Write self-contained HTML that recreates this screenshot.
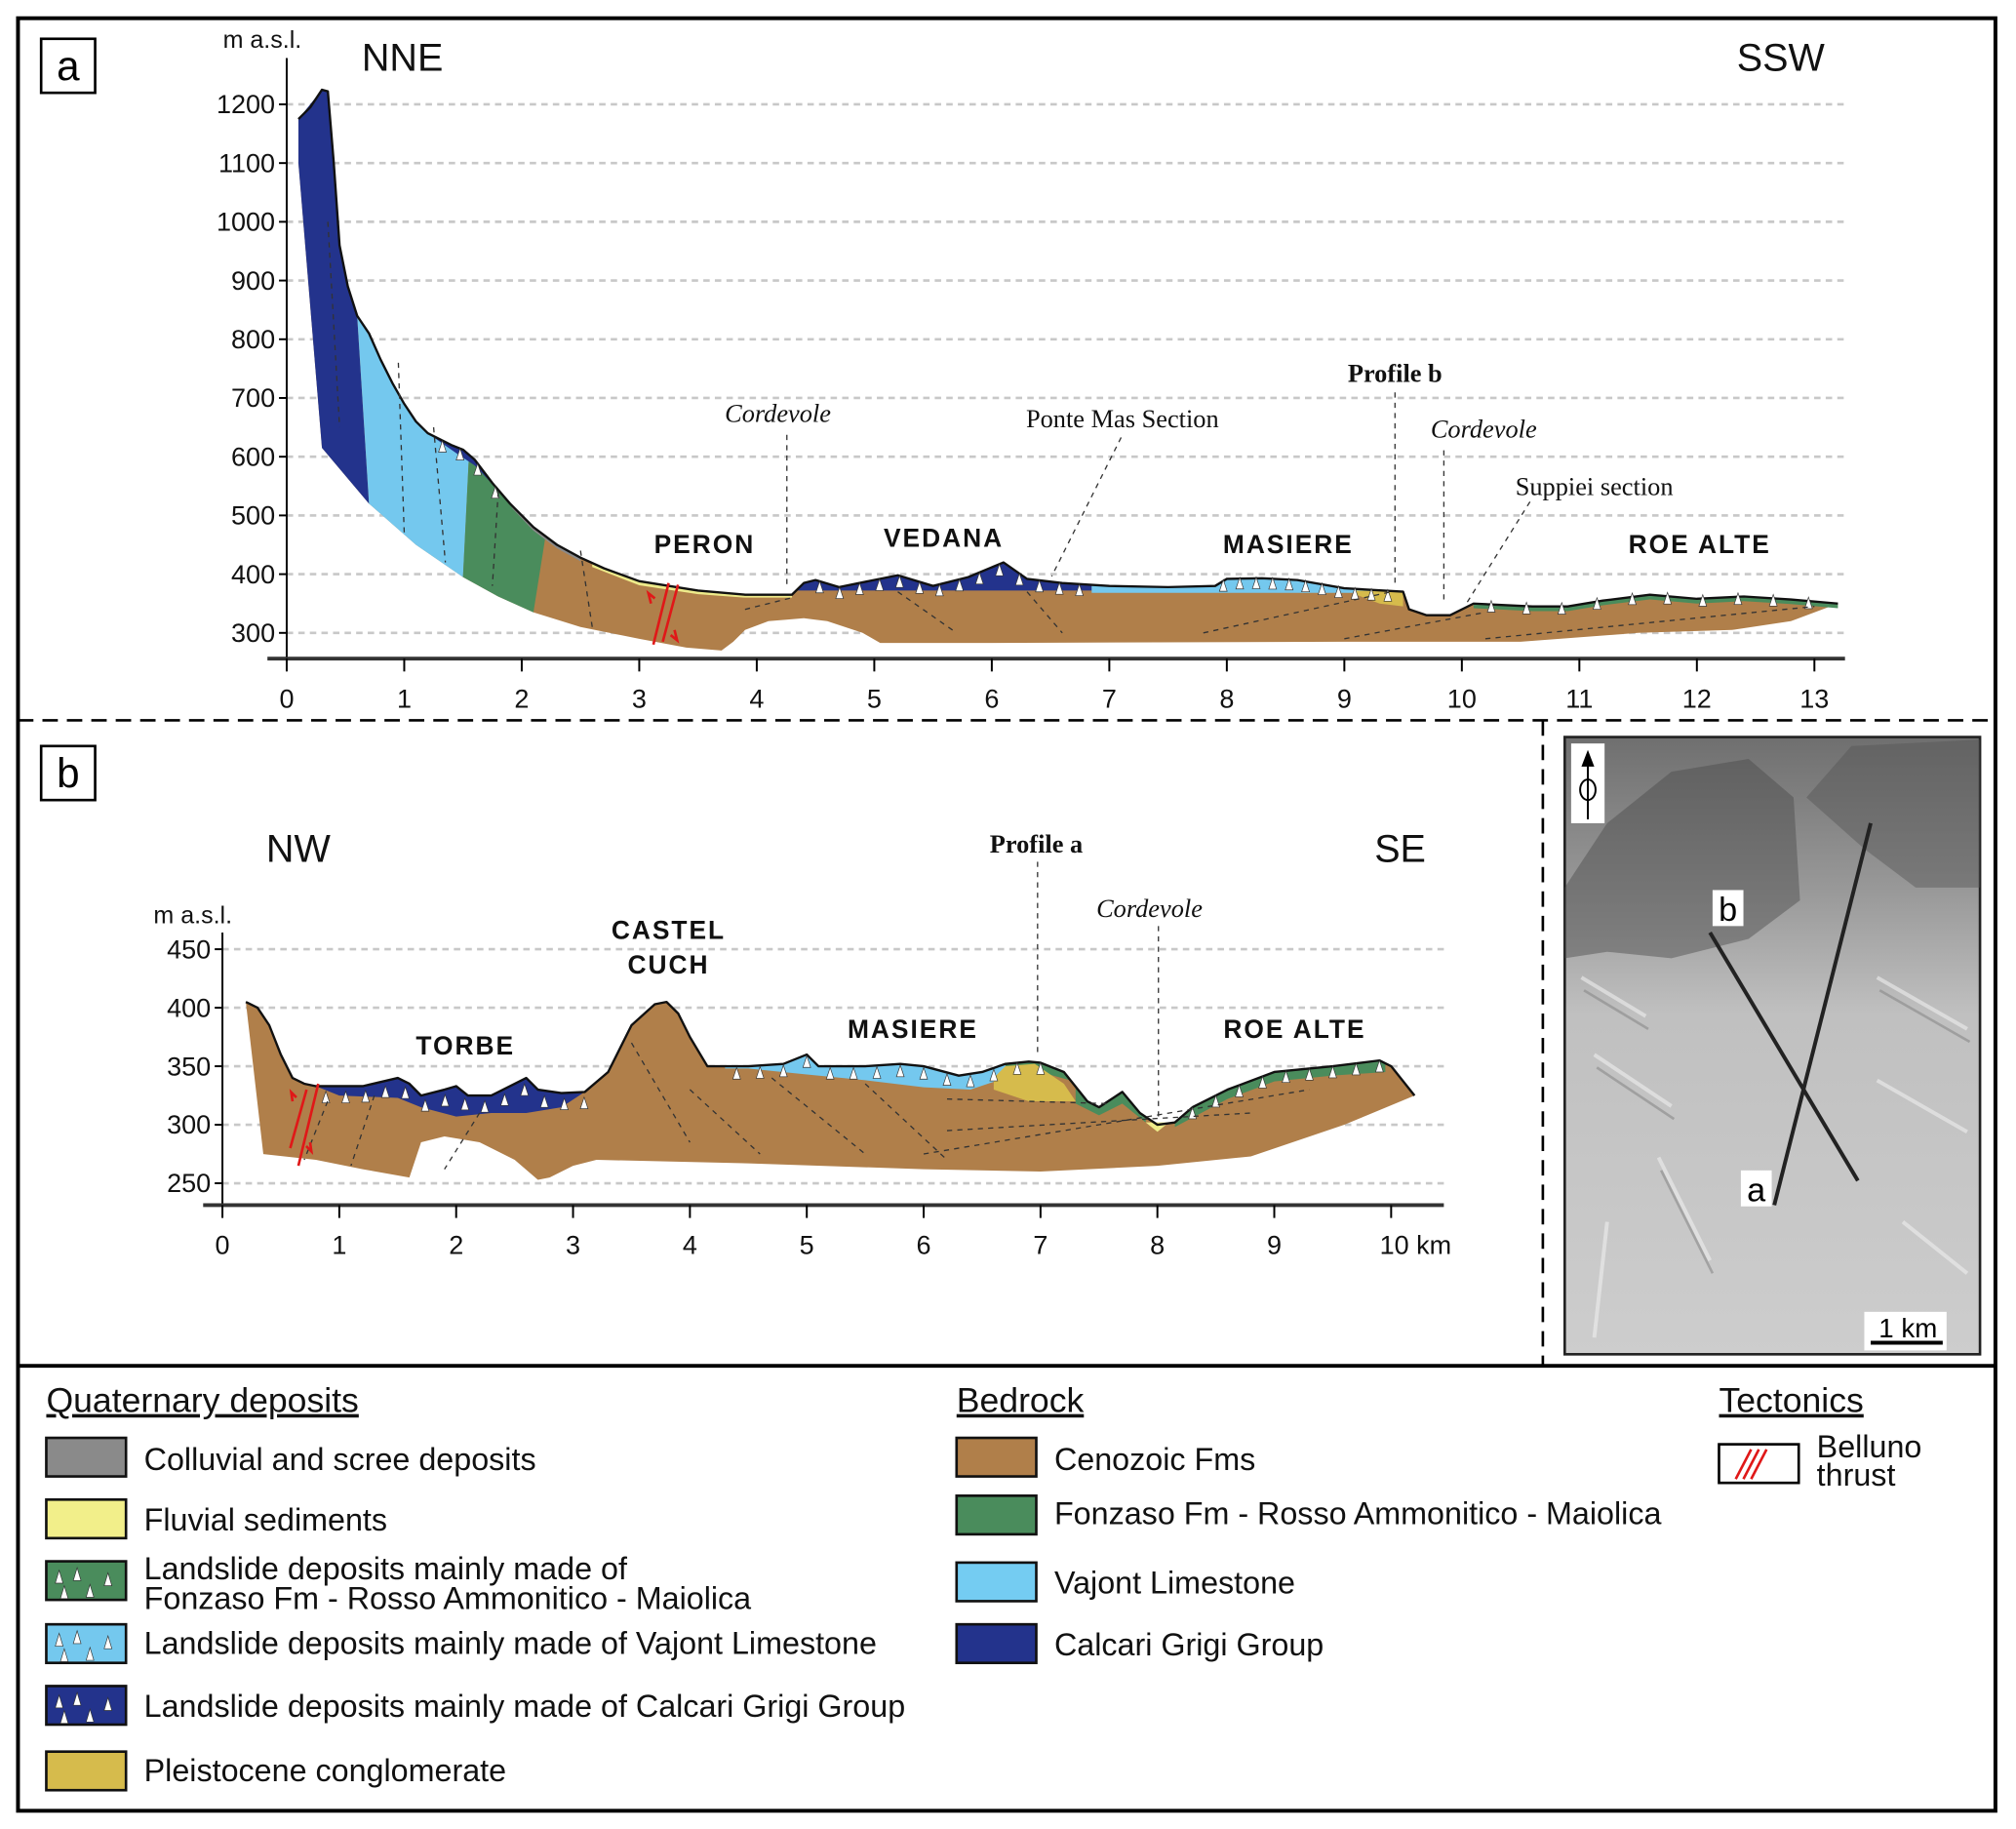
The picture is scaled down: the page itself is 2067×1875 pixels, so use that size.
<!DOCTYPE html>
<html><head><meta charset="utf-8"><style>
html,body{margin:0;padding:0;background:#fff}
svg{display:block}
text{font-family:"Liberation Sans",sans-serif}
.tk{font-size:20.5px;fill:#111}
.loc{font-size:20px;font-weight:bold;letter-spacing:1.5px;fill:#111}
.ser{font-family:"Liberation Serif",serif;font-size:20px;fill:#111}
.lg{font-size:24.5px;fill:#111}
.lt{font-size:27px;fill:#111;text-decoration:underline}
</style></head><body>
<svg id="fig" width="2067" height="1875" viewBox="0 0 1568 1422" xmlns="http://www.w3.org/2000/svg">
<defs>
<linearGradient id="mapg" x1="0" y1="0" x2="0" y2="1"><stop offset="0" stop-color="#6f6f6f"/><stop offset="0.25" stop-color="#999"/><stop offset="0.45" stop-color="#c0c0c0"/><stop offset="1" stop-color="#cdcdcd"/></linearGradient>
</defs>
<rect x="14" y="14" width="1538" height="1394" fill="none" stroke="#000" stroke-width="3"/>
<line x1="14" y1="560" x2="1552" y2="560" stroke="#000" stroke-width="2" stroke-dasharray="12,7"/>
<line x1="1200" y1="560" x2="1200" y2="1062" stroke="#000" stroke-width="2" stroke-dasharray="12,7"/>
<line x1="14" y1="1062" x2="1552" y2="1062" stroke="#000" stroke-width="3"/>

<g id="pa"></g>
<g id="pb"></g>

<rect x="32" y="30" width="42" height="42" fill="#fff" stroke="#000" stroke-width="2"/>
<text x="53" y="62" text-anchor="middle" style="font-size:32px">a</text>
<rect x="32" y="580" width="42" height="42" fill="#fff" stroke="#000" stroke-width="2"/>
<text x="53" y="612" text-anchor="middle" style="font-size:32px">b</text>

<g>
<rect x="1217" y="573" width="323" height="480" fill="url(#mapg)" stroke="#222" stroke-width="2"/>
<path d="M1217 690 L1250 640 L1300 600 L1360 590 L1395 620 L1400 700 L1360 730 L1300 745 L1250 740 L1217 745Z" fill="#4a4a4a" opacity="0.45"/>
<path d="M1405 620 L1440 580 L1540 575 L1540 690 L1490 690 L1450 660Z" fill="#555" opacity="0.45"/>
<path d="M1230 760 L1280 790 M1240 820 L1300 860 M1460 760 L1530 800 M1460 840 L1530 880 M1290 900 L1330 980 M1480 950 L1530 990 M1250 950 L1240 1040" stroke="#eee" stroke-width="3" fill="none" opacity="0.6"/>
<path d="M1232 770 L1282 800 M1242 830 L1302 870 M1462 770 L1532 810 M1292 910 L1332 990" stroke="#888" stroke-width="2" fill="none" opacity="0.6"/>
<line x1="1380" y1="937" x2="1455" y2="640" stroke="#222" stroke-width="3"/>
<line x1="1330" y1="725" x2="1445" y2="918" stroke="#222" stroke-width="3"/>
<rect x="1332" y="692" width="24" height="28" fill="#fff"/><text x="1344" y="716" text-anchor="middle" style="font-size:26px">b</text>
<rect x="1354" y="910" width="24" height="28" fill="#fff"/><text x="1366" y="934" text-anchor="middle" style="font-size:26px">a</text>
<rect x="1222" y="578" width="26" height="62" fill="#fff"/>
<line x1="1235" y1="637" x2="1235" y2="590" stroke="#000" stroke-width="1.5"/><path d="M1230 596 L1235 583 L1240 596Z" fill="#000"/>
<ellipse cx="1235" cy="614" rx="6" ry="8" fill="none" stroke="#000" stroke-width="1.5"/>
<rect x="1450" y="1020" width="64" height="30" fill="#fff"/>
<text x="1484" y="1040" text-anchor="middle" style="font-size:21px">1 km</text>
<line x1="1455" y1="1044" x2="1511" y2="1044" stroke="#000" stroke-width="3"/>
</g>

<g id="legend">
<text x="36" y="1098" class="lt">Quaternary deposits</text>
<text x="744" y="1098" class="lt">Bedrock</text>
<text x="1337" y="1098" class="lt">Tectonics</text>
<g>
<rect x="1337" y="1123" width="62" height="30" fill="#fff" stroke="#000" stroke-width="2"/>
<path d="M1350 1150 L1362 1127 M1356 1150 L1368 1127 M1362 1150 L1374 1127" stroke="#e01818" stroke-width="2"/>
<text x="1413" y="1133" class="lg">Belluno</text><text x="1413" y="1155" class="lg">thrust</text>
</g>
</g>
</svg>
<script>
// ---- Profile a data (km, m a.s.l.) ----
const aYTicks=[300,400,500,600,700,800,900,1000,1100,1200];
const aXTicks=[0,1,2,3,4,5,6,7,8,9,10,11,12,13];
const aTop=[[0.1,1175],[0.2,1195],[0.3,1225],[0.35,1222],[0.4,1100],[0.45,960],[0.52,890],[0.6,840],[0.7,810],[0.8,765],[0.9,725],[1.0,690],[1.1,660],[1.2,640],[1.4,620],[1.5,612],[1.6,595],[1.75,555],[1.9,520],[2.1,480],[2.3,450],[2.5,428],[2.7,410],[3.0,388],[3.5,372],[3.9,365],[4.3,365],[4.4,385],[4.5,390],[4.7,378],[5.2,398],[5.5,380],[5.8,395],[6.1,420],[6.3,392],[6.6,385],[7.0,380],[7.5,378],[7.9,380],[8.0,392],[8.3,393],[8.6,390],[9.0,376],[9.5,370],[9.55,340],[9.7,330],[9.9,330],[10.1,350],[10.6,345],[10.9,345],[11.2,355],[11.6,365],[12.0,358],[12.4,362],[12.8,357],[13.2,350]];
const aBottom=[[13.2,350],[12.8,320],[12.3,305],[11.5,300],[10.5,285],[9,285],[6,283],[5.05,283],[4.9,300],[4.6,320],[4.4,325],[4.1,320],[3.9,305],[3.8,285],[3.7,270],[3.4,275],[3.0,290],[2.5,310],[2.1,335],[1.8,362],[1.5,395],[1.1,450],[0.7,520],[0.3,615],[0.1,1100]];
const aCalcari=[[0.1,1175],[0.3,1225],[0.35,1222],[0.45,960],[0.52,890],[0.6,840],[0.7,520],[0.3,615],[0.1,1100]];
const aVajont=[[0.6,840],[0.7,810],[0.8,765],[0.9,725],[1.0,690],[1.1,660],[1.2,640],[1.4,620],[1.55,600],[1.5,395],[1.1,450],[0.7,520]];
const aFonzaso=[[1.55,600],[1.75,555],[1.9,520],[2.1,480],[2.2,462],[2.1,335],[1.8,362],[1.5,395]];
const aSlideBlueTop=[[1.2,640],[1.4,620],[1.5,612],[1.6,595],[1.75,555],[1.9,520],[1.85,532],[1.6,585],[1.45,605]];
const aColluv=[[1.9,520],[2.1,480],[2.3,450],[2.5,428],[2.5,422],[2.3,444],[2.1,474],[1.92,512]];
const aConglom=[[9.1,372],[9.5,370],[9.5,345],[9.3,350],[9.1,365]];
const aFluvial=[[2.6,418],[3.0,388],[3.5,372],[3.9,365],[4.3,365],[4.3,360],[3.9,360],[3.5,366],[3.0,381],[2.6,412]];
const aSlideBlue=[4.35,6.85,372];
const aSlideLight=[6.85,9.5,368];
const aSlideGreen=[10.1,13.2,8];
// ---- Profile b data ----
const bYTicks=[250,300,350,400,450];
const bXTicks=[0,1,2,3,4,5,6,7,8,9,10];
const bTop=[[0.2,405],[0.3,400],[0.4,385],[0.5,360],[0.6,340],[0.7,335],[0.8,333],[1.2,333],[1.5,340],[1.6,335],[1.7,325],[1.9,330],[2.0,333],[2.1,325],[2.3,325],[2.6,340],[2.7,330],[2.9,327],[3.1,328],[3.3,345],[3.5,385],[3.7,403],[3.8,405],[3.9,395],[4.0,375],[4.15,350],[4.5,350],[4.8,352],[5.0,360],[5.1,350],[5.5,350],[5.8,352],[6.0,350],[6.3,342],[6.5,345],[6.7,352],[6.9,354],[7.0,353],[7.2,345],[7.4,320],[7.5,315],[7.7,328],[7.85,310],[8.0,300],[8.15,302],[8.3,315],[8.6,330],[9.0,345],[9.5,350],[9.9,355],[10.0,350],[10.2,325]];
const bBottom=[[10.2,325],[9.6,300],[8.8,273],[8,265],[7.0,260],[6,262],[4.5,267],[3.2,270],[3.0,265],[2.8,255],[2.7,253],[2.5,270],[2.2,285],[1.9,290],[1.7,285],[1.6,255],[1.2,262],[0.8,270],[0.35,275],[0.2,405]];
const bConglom=[[6.6,340],[6.7,350],[6.95,352],[7.2,335],[7.3,320],[6.9,320],[6.6,330]];
const bFluvial=[[7.9,302],[8.1,302],[8.0,294]];
const bSlideBlue=[0.8,3.1,[[3.1,328],[2.9,315],[2.6,310],[2.3,310],[2.0,307],[1.7,315],[1.5,323],[1.0,325],[0.8,333]]];
const bSlideLight=[4.3,6.7,[[6.7,340],[6.4,330],[6.0,332],[5.5,338],[5.0,343],[4.5,348],[4.3,348]]];
const bSlideGreen1=[6.7,7.25,[[7.25,338],[7.0,345],[6.7,345]]];
const bSlideGreen2=[7.3,7.9,[[7.9,302],[7.7,318],[7.5,308],[7.3,318]]];
const bSlideGreen3=[8.15,9.95,[[9.95,345],[9.5,342],[9.0,337],[8.6,322],[8.3,306],[8.15,298]]];

const NS='http://www.w3.org/2000/svg';
function mk(p,tag,at){const e=document.createElementNS(NS,tag);for(const k in at)e.setAttribute(k,at[k]);p.appendChild(e);return e;}
function interp(arr,x){for(let i=0;i<arr.length-1;i++){const a=arr[i],b=arr[i+1];if(x>=a[0]&&x<=b[0]){return a[1]+(b[1]-a[1])*(x-a[0])/(b[0]-a[0]||1);}}return arr[arr.length-1][1];}
function pts(arr,X,Y){return arr.map(p=>X(p[0]).toFixed(1)+','+Y(p[1]).toFixed(1)).join(' ');}
function topSeg(top,x0,x1){const r=[[x0,interp(top,x0)]];top.forEach(p=>{if(p[0]>x0&&p[0]<x1)r.push(p)});r.push([x1,interp(top,x1)]);return r;}
const C={brown:'#b07f4a',blue:'#23338c',light:'#74c8ee',green:'#4a8c5c',fluv:'#eeeb8a',cong:'#d6bb4c',gray:'#8a8a8a'};
function tris(g,top,x0,x1,step,X,Y,name,off){for(let x=x0+step/2;x<x1;x+=step){const px=X(x),py=Y(interp(top,x))+(off||6);const t=mk(g,'path',{d:`M${px-3} ${py+4} L${px} ${py-5} L${px+3} ${py+4}Z`,fill:'#fff',stroke:'#333','stroke-width':0.5});}}

function axes(g,X,Y,yt,xt,x0,x1,yb,xl,unitKm){
 yt.forEach(v=>{const l=mk(g,'line',{x1:X(xl[0]),x2:x1,y1:Y(v),y2:Y(v),stroke:'#c8c8c8','stroke-width':2,'stroke-dasharray':'5,4'});
  mk(g,'line',{x1:X(xl[0])-6,x2:X(xl[0]),y1:Y(v),y2:Y(v),stroke:'#000','stroke-width':1.5});
  const t=mk(g,'text',{x:X(xl[0])-9,y:Y(v)+7,'text-anchor':'end',class:'tk'});t.textContent=v;});
 const ya=mk(g,'line',{x1:X(xl[0]),x2:X(xl[0]),y1:xl[1],y2:yb,stroke:'#000','stroke-width':1.5});
 const xa=mk(g,'line',{x1:x0,x2:x1,y1:yb,y2:yb,stroke:'#333','stroke-width':3});
 xt.forEach((v,i)=>{mk(g,'line',{x1:X(v),x2:X(v),y1:yb,y2:yb+10,stroke:'#000','stroke-width':1.5});
  const t=mk(g,'text',{x:X(v)+(unitKm&&i===xt.length-1?19:0),y:yb+38,'text-anchor':'middle',class:'tk'});t.textContent=(unitKm&&i===xt.length-1)?v+' km':v;});
}
function poly(g,arr,X,Y,fill,name,stroke){const p=mk(g,'polygon',{points:pts(arr,X,Y),fill:fill,stroke:stroke||'none','stroke-width':1});return p;}
function slide(g,top,x0,x1,base,X,Y,fill,name){const s=topSeg(top,x0,x1);const b=(typeof base==='number')?[[x1,Math.min(base,interp(top,x1))],[x0,Math.min(base,interp(top,x0))]]:base;poly(g,s.concat(b),X,Y,fill,name);}
function label(g,x,y,txt,cls,name){const t=mk(g,'text',{x:x,y:y,class:cls,'text-anchor':'middle'});t.textContent=txt;return t;}
function dline(g,x1,y1,x2,y2,name){const l=mk(g,'line',{x1,y1,x2,y2,stroke:'#333','stroke-width':1,'stroke-dasharray':'4,4'});}

(function(){
 const g=document.getElementById('pa');
 const X=k=>223+k*91.4, Y=m=>492-(m-300)*0.4567;
 axes(g,X,Y,aYTicks,aXTicks,208,1435,512,[0,45],false);
 poly(g,aTop.concat(aBottom),X,Y,C.brown,'cenozoic-fms-a');
 poly(g,aCalcari,X,Y,C.blue,'calcari-grigi-a');
 poly(g,aVajont,X,Y,C.light,'vajont-limestone-a');
 poly(g,aFonzaso,X,Y,C.green,'fonzaso-fm-a');
 poly(g,aSlideBlueTop,X,Y,C.blue,'landslide-calcari-slope-a');
 poly(g,aColluv,X,Y,C.gray,'colluvial-deposits-a');
 poly(g,aFluvial,X,Y,C.fluv,'fluvial-sediments-a');
 slide(g,aTop,aSlideBlue[0],aSlideBlue[1],aSlideBlue[2],X,Y,C.blue,'landslide-calcari-vedana');
 slide(g,aTop,aSlideLight[0],aSlideLight[1],aSlideLight[2],X,Y,C.light,'landslide-vajont-masiere');
 const gs=topSeg(aTop,aSlideGreen[0],aSlideGreen[1]);poly(g,gs.concat(gs.slice().reverse().map(p=>[p[0],p[1]-aSlideGreen[2]])),X,Y,C.green,'landslide-fonzaso-roe-alte');
 poly(g,aConglom,X,Y,C.cong,'pleistocene-conglomerate-a');
 const o=mk(g,'polyline',{points:pts(aTop,X,Y),fill:'none',stroke:'#111','stroke-width':1.8,'stroke-linejoin':'round'});
 tris(g,aTop,4.45,6.85,0.17,X,Y,'landslide-clast',5);tris(g,aTop,7.9,9.5,0.14,X,Y,'landslide-clast',4);tris(g,aTop,10.1,13.2,0.3,X,Y,'landslide-clast',2);tris(g,aTop,1.25,1.85,0.15,X,Y,'landslide-clast',5);
 [[0.35,1000,0.45,650],[0.95,760,1.0,470],[1.25,650,1.35,420],[1.8,540,1.75,380],[2.5,440,2.6,310],[3.9,340,4.3,360],[5.2,370,5.7,300],[6.3,370,6.6,300],[7.8,300,9.4,370],[9.0,290,10.2,335],[10.2,290,13.0,345]].forEach(d=>dline(g,X(d[0]),Y(d[1]),X(d[2]),Y(d[3]),'bedding-trace'));
 const f=mk(g,'path',{d:`M${X(3.12)} ${Y(280)} L${X(3.25)} ${Y(385)} M${X(3.2)} ${Y(285)} L${X(3.33)} ${Y(382)} M${X(3.1)} ${Y(350)} l-2 -8 l5 4 M${X(3.3)} ${Y(305)} l2 8 l-5 -4`,stroke:'#e01818','stroke-width':2,fill:'none'});
 label(g,204,37,'m a.s.l.','tk','y-axis-unit-a').setAttribute('style','font-size:19px');
 label(g,313,55,'NNE','lg','direction-nne').setAttribute('style','font-size:30px');
 label(g,1385,55,'SSW','lg','direction-ssw').setAttribute('style','font-size:30px');
 label(g,548,430,'PERON','loc','locality-peron');label(g,734,425,'VEDANA','loc','locality-vedana');
 label(g,1002,430,'MASIERE','loc','locality-masiere');label(g,1322,430,'ROE ALTE','loc','locality-roe-alte');
 const c1=label(g,605,328,'Cordevole','ser','river-cordevole-a1');c1.setAttribute('font-style','italic');
 const c2=label(g,1154,340,'Cordevole','ser','river-cordevole-a2');c2.setAttribute('font-style','italic');
 label(g,873,332,'Ponte Mas Section','ser','ponte-mas-section');
 const pb=label(g,1085,297,'Profile b','ser','profile-b-marker');pb.setAttribute('font-weight','bold');
 label(g,1240,385,'Suppiei section','ser','suppiei-section');
 dline(g,612,338,612,455,'leader');dline(g,1085,305,1085,456,'leader');dline(g,1123,350,1123,470,'leader');dline(g,872,340,818,448,'leader');dline(g,1190,390,1140,470,'leader');
})();

(function(){
 const g=document.getElementById('pb');
 const X=k=>173+k*90.9, Y=m=>920-(m-250)*0.91;
 axes(g,X,Y,bYTicks,bXTicks,158,1123,937,[0,725],true);
 poly(g,bTop.concat(bBottom),X,Y,C.brown,'cenozoic-fms-b');
 slide(g,bTop,bSlideBlue[0],bSlideBlue[1],bSlideBlue[2],X,Y,C.blue,'landslide-calcari-torbe');
 slide(g,bTop,bSlideLight[0],bSlideLight[1],bSlideLight[2],X,Y,C.light,'landslide-vajont-masiere-b');
 slide(g,bTop,bSlideGreen1[0],bSlideGreen1[1],bSlideGreen1[2],X,Y,C.green,'landslide-fonzaso-b1');
 slide(g,bTop,bSlideGreen2[0],bSlideGreen2[1],bSlideGreen2[2],X,Y,C.green,'landslide-fonzaso-b2');
 slide(g,bTop,bSlideGreen3[0],bSlideGreen3[1],bSlideGreen3[2],X,Y,C.green,'landslide-fonzaso-b3');
 poly(g,bConglom,X,Y,C.cong,'pleistocene-conglomerate-b');
 poly(g,bFluvial,X,Y,C.fluv,'fluvial-sediments-b');
 const o=mk(g,'polyline',{points:pts(bTop,X,Y),fill:'none',stroke:'#111','stroke-width':1.8,'stroke-linejoin':'round'});
 tris(g,bTop,0.8,3.1,0.17,X,Y,'landslide-clast',9);tris(g,bTop,4.3,6.7,0.2,X,Y,'landslide-clast',6);tris(g,bTop,6.7,7.2,0.2,X,Y,'landslide-clast',5);tris(g,bTop,8.2,9.95,0.2,X,Y,'landslide-clast',5);
 [[0.9,320,0.7,270],[1.3,325,1.1,265],[2.2,310,1.9,262],[3.5,370,4.0,285],[4.0,330,4.6,275],[4.7,340,5.5,275],[5.5,335,6.2,270],[6.2,322,7.6,318],[6.2,295,8.8,310],[6.0,275,9.3,330]].forEach(d=>dline(g,X(d[0]),Y(d[1]),X(d[2]),Y(d[3]),'bedding-trace'));
 const f=mk(g,'path',{d:`M${X(0.65)} ${Y(265)} L${X(0.82)} ${Y(335)} M${X(0.58)} ${Y(280)} L${X(0.72)} ${Y(330)} M${X(0.6)} ${Y(320)} l-1 -7 l4 4 M${X(0.75)} ${Y(285)} l1 7 l-4 -4`,stroke:'#e01818','stroke-width':2,fill:'none'});
 label(g,150,718,'m a.s.l.','tk','y-axis-unit-b').setAttribute('style','font-size:19px');
 label(g,232,670,'NW','lg','direction-nw').setAttribute('style','font-size:30px');
 label(g,1089,670,'SE','lg','direction-se').setAttribute('style','font-size:30px');
 label(g,520,730,'CASTEL','loc','locality-castel');label(g,520,757,'CUCH','loc','locality-cuch');
 label(g,362,820,'TORBE','loc','locality-torbe');label(g,710,807,'MASIERE','loc','locality-masiere-b');label(g,1007,807,'ROE ALTE','loc','locality-roe-alte-b');
 const pa=label(g,806,663,'Profile a','ser','profile-a-marker');pa.setAttribute('font-weight','bold');
 const c=label(g,894,713,'Cordevole','ser','river-cordevole-b');c.setAttribute('font-style','italic');
 dline(g,807,670,807,822,'leader');dline(g,901,720,901,870,'leader');
})();

(function(){
 const g=document.getElementById('legend');
 const items=[[36,1118,C.gray,0,'Colluvial and scree deposits',1143],[36,1166,'#f2ef8a',0,'Fluvial sediments',1190],[36,1214,C.green,1,'Landslide deposits mainly made of|Fonzaso Fm - Rosso Ammonitico - Maiolica',1228],[36,1263,C.light,1,'Landslide deposits mainly made of Vajont Limestone',1286],[36,1311,C.blue,1,'Landslide deposits mainly made of Calcari Grigi Group',1335],[36,1362,C.cong,0,'Pleistocene conglomerate',1385],
 [744,1118,C.brown,0,'Cenozoic Fms',1143],[744,1163,C.green,0,'Fonzaso Fm - Rosso Ammonitico - Maiolica',1185],[744,1215,'#74ccf2',0,'Vajont Limestone',1239],[744,1263,C.blue,0,'Calcari Grigi Group',1287]];
 items.forEach(it=>{const gg=mk(g,'g',{});
  mk(gg,'rect',{x:it[0],y:it[1],width:62,height:30,fill:it[2],stroke:'#111','stroke-width':2});
  if(it[3]){[[46,it[1]+12],[60,it[1]+10],[50,it[1]+24],[70,it[1]+23],[84,it[1]+14]].forEach(p=>mk(gg,'path',{d:`M${p[0]-3} ${p[1]+5} L${p[0]} ${p[1]-5} L${p[0]+3} ${p[1]+5}Z`,fill:'#fff',stroke:'#333','stroke-width':0.5}));}
  it[4].split('|').forEach((s,i)=>{const t=mk(gg,'text',{x:it[0]+76,y:it[5]+i*23,class:'lg'});t.textContent=s;});
 });
})();
</script>
</body></html>
